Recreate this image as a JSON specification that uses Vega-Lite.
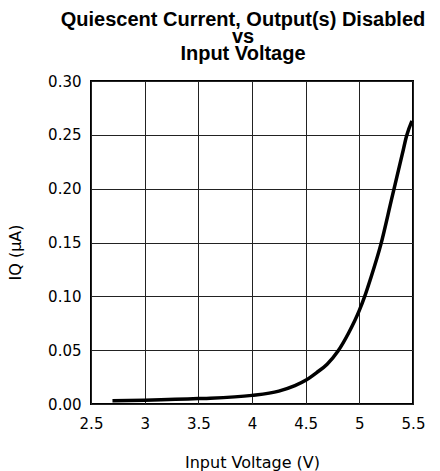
{
  "$schema": "https://vega.github.io/schema/vega-lite/v6.json",
  "width": 322,
  "height": 323,
  "autosize": {"type": "none"},
  "padding": {"left": 91, "top": 81, "right": 27, "bottom": 67},
  "background": "white",
  "title": {
    "text": ["Quiescent Current, Output(s) Disabled", "vs", "Input Voltage"],
    "font": "Liberation Sans",
    "fontSize": 20,
    "fontWeight": "bold",
    "lineHeight": 17,
    "color": "black",
    "anchor": "middle",
    "frame": "group",
    "dx": -9,
    "offset": 10
  },
  "data": {
    "values": [
      {"v": 2.7, "iq": 0.003},
      {"v": 3.0, "iq": 0.0035},
      {"v": 3.5, "iq": 0.005},
      {"v": 4.0, "iq": 0.008},
      {"v": 4.25, "iq": 0.012},
      {"v": 4.4, "iq": 0.017},
      {"v": 4.5, "iq": 0.022},
      {"v": 4.6, "iq": 0.029},
      {"v": 4.7, "iq": 0.037},
      {"v": 4.8, "iq": 0.049},
      {"v": 4.9, "iq": 0.066},
      {"v": 5.0, "iq": 0.087},
      {"v": 5.05, "iq": 0.1},
      {"v": 5.1, "iq": 0.115},
      {"v": 5.2, "iq": 0.148},
      {"v": 5.3, "iq": 0.19},
      {"v": 5.4, "iq": 0.232},
      {"v": 5.44, "iq": 0.249},
      {"v": 5.49, "iq": 0.263}
    ]
  },
  "mark": {"type": "line", "color": "black", "strokeWidth": 3.5, "interpolate": "monotone"},
  "encoding": {
    "x": {
      "field": "v",
      "type": "quantitative",
      "scale": {"domain": [2.5, 5.5], "nice": false, "zero": false},
      "axis": {
        "values": [2.5, 3, 3.5, 4, 4.5, 5, 5.5],
        "format": "~g",
        "labelPadding": 12,
        "title": "Input Voltage (V)",
        "titleY": 58,
        "titleBaseline": "middle"
      }
    },
    "y": {
      "field": "iq",
      "type": "quantitative",
      "scale": {"domain": [0, 0.3], "nice": false},
      "axis": {
        "values": [0, 0.05, 0.1, 0.15, 0.2, 0.25, 0.3],
        "format": ".2f",
        "title": "IQ (μA)",
        "titleAngle": -90,
        "titleX": -76,
        "titleY": 171,
        "titleAlign": "center",
        "titleBaseline": "middle"
      }
    }
  },
  "config": {
    "view": {"stroke": "black", "strokeWidth": 2},
    "axis": {
      "domain": false,
      "ticks": false,
      "grid": true,
      "gridColor": "#222",
      "gridWidth": 1,
      "gridOpacity": 1,
      "labelFlush": false,
      "labelFont": "DejaVu Sans",
      "labelFontSize": 15,
      "labelColor": "black",
      "labelPadding": 10,
      "titleFont": "DejaVu Sans",
      "titleFontSize": 16,
      "titleFontWeight": "normal",
      "titleColor": "black"
    }
  }
}
